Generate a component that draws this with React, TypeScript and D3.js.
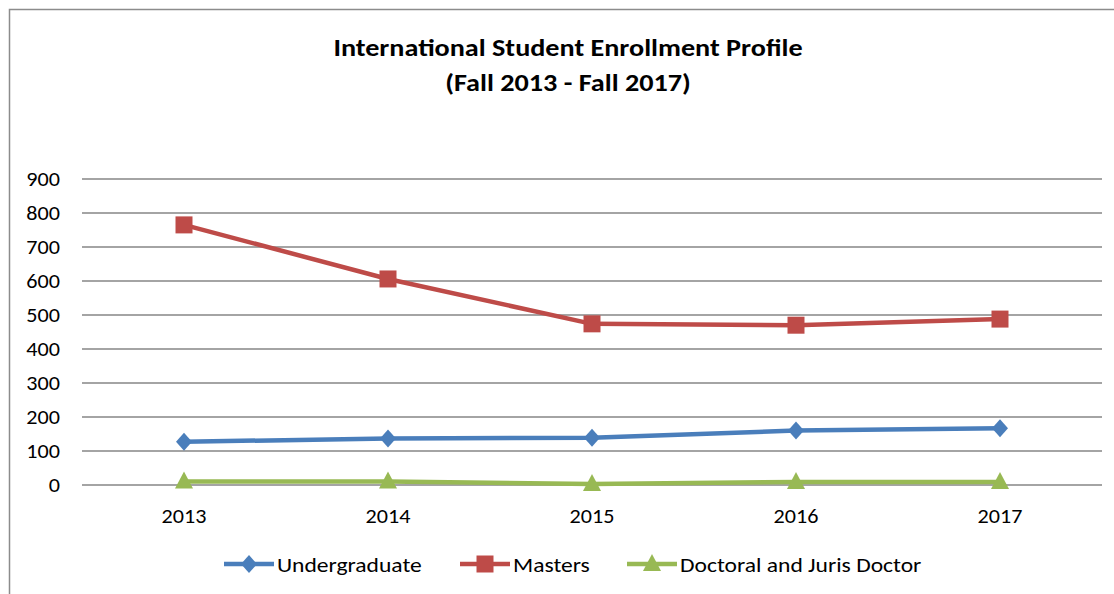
import React from "react";
import * as d3 from "d3";

const years = ["2013", "2014", "2015", "2016", "2017"];
const undergraduate = [127, 137, 139, 160, 167];
const masters = [765, 606, 474, 470, 488];
const doctoral = [10, 10, 3, 9, 9];
const yTicks = [0, 100, 200, 300, 400, 500, 600, 700, 800, 900];
const seriesNames = ["Undergraduate", "Masters", "Doctoral and Juris Doctor"];

const FONT = "Carlito, 'Liberation Sans Narrow', 'Open Sans', sans-serif";
const W = 1114, H = 594;
const colors = ["#4a7ebb", "#be4b48", "#98b954"];

function markerPath(i: number): string {
  const p = d3.path();
  if (i === 0) {
    p.moveTo(0, -9); p.lineTo(8, 0); p.lineTo(0, 9); p.lineTo(-8, 0); p.closePath();
  } else if (i === 1) {
    p.rect(-8.5, -8.5, 17, 17);
  } else {
    p.moveTo(0, -10); p.lineTo(9, 7); p.lineTo(-9, 7); p.closePath();
  }
  return p.toString();
}

function Marker({ i, x, y }: { i: number; x: number; y: number }) {
  return <path d={markerPath(i)} transform={`translate(${x},${y})`} fill={colors[i]} />;
}

function T({ x, y, anchor, size, bold, sx = 1.12, children }: any) {
  return (
    <text
      transform={`translate(${x},${y}) scale(${sx},1)`}
      textAnchor={anchor}
      fontSize={size}
      fontWeight={bold ? "bold" : "normal"}
      fill="#000"
    >
      {children}
    </text>
  );
}

export default function App() {
  const x = d3.scaleBand().domain(years).range([82, 1102]);
  const y = d3.scaleLinear().domain([0, 900]).range([485, 179]);
  const data = [undergraduate, masters, doctoral];
  const cx = (i: number) => x(years[i])! + x.bandwidth() / 2;
  const line = d3
    .line<number>()
    .x((_, i) => cx(i))
    .y((d) => y(d));
  const legendX = [224, 460, 627];
  return (
    <svg width={W} height={H} style={{ position: "absolute", left: 0, top: 0, fontFamily: FONT }}>
      <rect x={0} y={0} width={W} height={H} fill="#fff" />
      <rect x={9.5} y={9.5} width={W + 20} height={H + 20} fill="none" stroke="#8c8c8c" strokeWidth={1.5} />
      <T x={568} y={56} anchor="middle" size={24.5} bold sx={1.15}>
        International Student Enrollment Profile
      </T>
      <T x={568} y={91} anchor="middle" size={24.5} bold sx={1.15}>
        (Fall 2013 - Fall 2017)
      </T>
      {yTicks.map((t) => (
        <g key={t}>
          <line x1={82} x2={1102} y1={y(t)} y2={y(t)} stroke="#868686" strokeWidth={1.5} />
          <T x={60} y={y(t) + 6.5} anchor="end" size={20.5} sx={1.08}>
            {t}
          </T>
        </g>
      ))}
      {years.map((yr, i) => (
        <T key={yr} x={cx(i)} y={522.5} anchor="middle" size={20.5} sx={1.08}>
          {yr}
        </T>
      ))}
      {data.map((s, i) => (
        <g key={i}>
          <path d={line(s)!} fill="none" stroke={colors[i]} strokeWidth={4.5} strokeLinejoin="round" />
          {s.map((v, j) => (
            <Marker key={j} i={i} x={cx(j)} y={y(v)} />
          ))}
        </g>
      ))}
      {seriesNames.map((n, i) => (
        <g key={n}>
          <line x1={legendX[i]} x2={legendX[i] + 50} y1={564} y2={564} stroke={colors[i]} strokeWidth={4.5} />
          <Marker i={i} x={legendX[i] + 25} y={564} />
          <T x={legendX[i] + 53} y={572} anchor="start" size={20.5} sx={1.15}>
            {n}
          </T>
        </g>
      ))}
    </svg>
  );
}
